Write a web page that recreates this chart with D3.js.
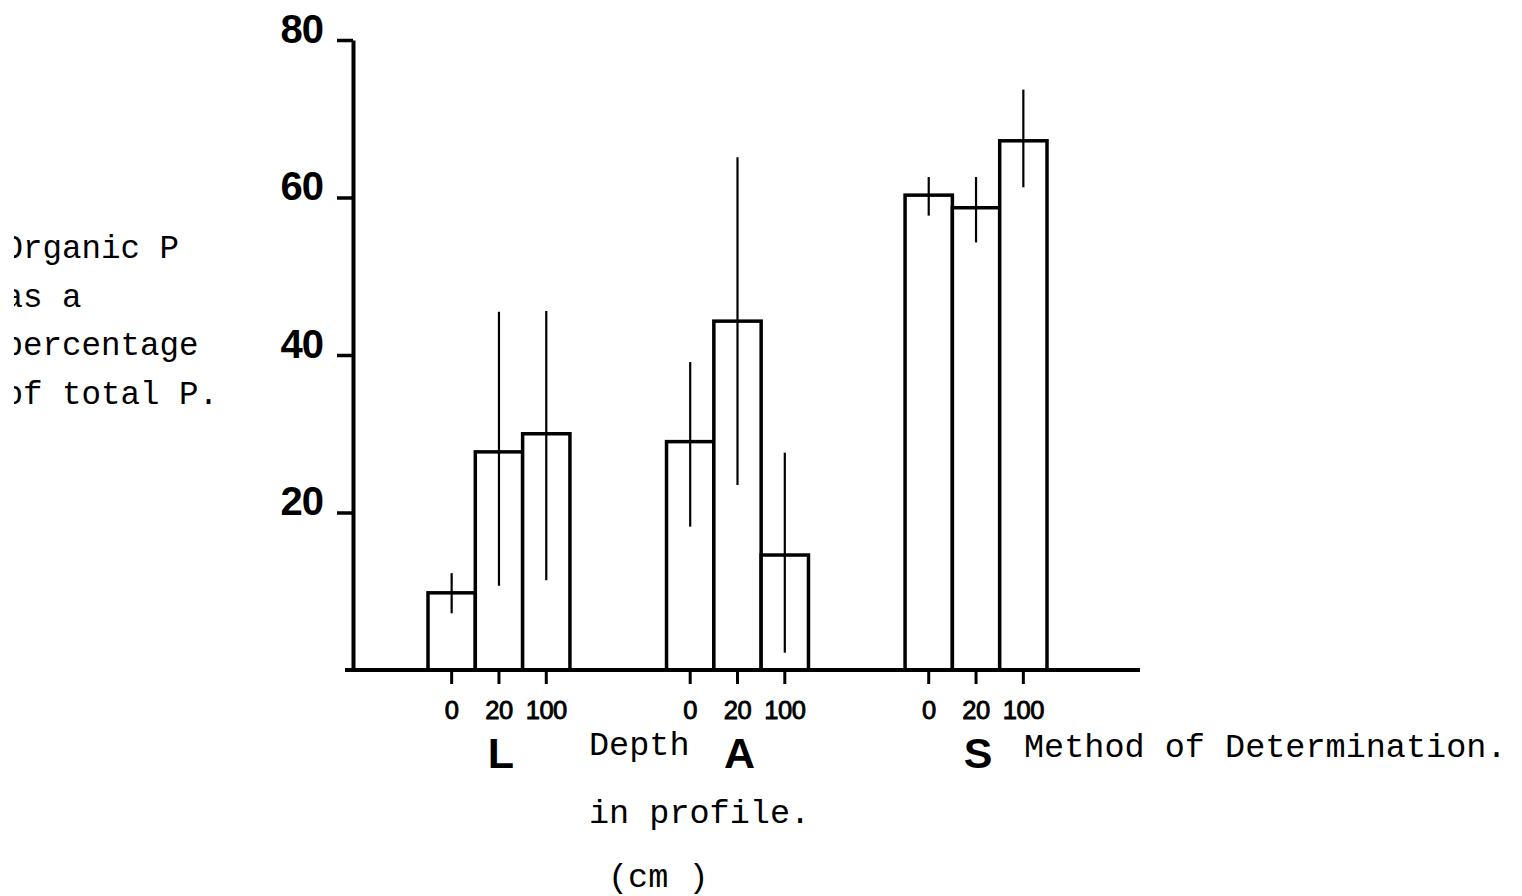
<!DOCTYPE html>
<html>
<head>
<meta charset="utf-8">
<script src="https://cdn.jsdelivr.net/npm/d3@7"></script>
<style>
  html, body { margin: 0; padding: 0; background: #fff; }
  svg { display: block; }
</style>
</head>
<body>
<svg id="chart" width="1522" height="896"></svg>
<script>
// Method of determination (groups) and sampling depth in profile (cm)
const methods = ["L", "A", "S"];
const depths = ["0", "20", "100"];

// Organic P as % of total P, per method, ordered by depth 0 / 20 / 100 cm
const pctL = [9.8, 27.7, 30.0];
const pctA = [29.0, 44.3, 14.6];
const pctS = [60.3, 58.7, 67.2];

// Upper and lower ends of the range bars
const hiL = [12.3, 45.5, 45.6];
const loL = [7.2, 10.7, 11.4];
const hiA = [39.1, 65.1, 27.6];
const loA = [18.2, 23.5, 2.2];
const hiS = [62.6, 62.6, 73.7];
const loS = [57.7, 54.3, 61.3];

const yTicks = [20, 40, 60, 80];
const yTitleLines = ["Organic P", "as a", "percentage", "of total P."];
const depthTitleLines = ["Depth", "in profile.", "(cm )"];
const methodTitle = "Method of Determination.";

const pct = [pctL, pctA, pctS];
const hi = [hiL, hiA, hiS];
const lo = [loL, loA, loS];
const rows = methods.map((m, i) => ({
  method: m,
  bars: depths.map((d, j) => ({ method: m, depth: d, value: pct[i][j], hi: hi[i][j], lo: lo[i][j] }))
}));

const svg = d3.select("#chart");
svg.append("rect").attr("width", 1522).attr("height", 896).attr("fill", "#fff");

const baseY = 670;
const y = d3.scaleLinear().domain([0, 80]).range([baseY, 40]);
const x0 = d3.scaleBand().domain(methods).range([428, 1047]).paddingInner(0.405).paddingOuter(0);
const x1 = d3.scaleBand().domain(depths).range([0, x0.bandwidth()]).padding(0);

const sansFont = "'Liberation Sans', Arial, Helvetica, sans-serif";
const monoFont = "'Liberation Mono', 'Courier New', monospace";

// Bars and range lines
const groups = svg.selectAll("g.method").data(rows).join("g")
  .attr("class", "method")
  .attr("transform", d => `translate(${x0(d.method)},0)`);

groups.selectAll("rect.bar").data(d => d.bars).join("rect")
  .attr("class", "bar")
  .attr("x", d => x1(d.depth))
  .attr("y", d => y(d.value))
  .attr("width", x1.bandwidth())
  .attr("height", d => baseY - y(d.value))
  .attr("fill", "#fff")
  .attr("stroke", "#000")
  .attr("stroke-width", 3.5);

groups.selectAll("line.range").data(d => d.bars).join("line")
  .attr("class", "range")
  .attr("x1", d => x1(d.depth) + x1.bandwidth() / 2)
  .attr("x2", d => x1(d.depth) + x1.bandwidth() / 2)
  .attr("y1", d => y(d.hi))
  .attr("y2", d => y(d.lo))
  .attr("stroke", "#000")
  .attr("stroke-width", 2.2);

// Depth axis under each group
groups.each(function () {
  const g = d3.select(this).append("g").attr("transform", `translate(0,${baseY})`);
  g.call(d3.axisBottom(x1).tickSize(14).tickPadding(17).tickSizeOuter(0));
  g.select(".domain").remove();
  g.selectAll(".tick line").attr("stroke", "#000").attr("stroke-width", 3);
  g.selectAll(".tick text")
    .attr("fill", "#000")
    .attr("stroke", "#000")
    .attr("stroke-width", 0.9)
    .attr("dy", "0.72em")
    .style("font-family", sansFont)
    .style("font-size", "25.5px")
    .style("letter-spacing", "-0.5px");
});

// Method letters
svg.selectAll("text.methodLabel").data(methods).join("text")
  .attr("class", "methodLabel")
  .attr("x", d => x0(d) + x0.bandwidth() / 2 + 2)
  .attr("y", 768)
  .attr("text-anchor", "middle")
  .style("font-family", sansFont)
  .style("font-size", "43px")
  .style("font-weight", "bold")
  .text(d => d);

// Baseline
svg.append("line")
  .attr("x1", 345).attr("x2", 1140)
  .attr("y1", baseY).attr("y2", baseY)
  .attr("stroke", "#000").attr("stroke-width", 4);

// Value axis
const yAxis = svg.append("g").attr("transform", "translate(353,0)")
  .call(d3.axisLeft(y).tickValues(yTicks).tickSize(16).tickPadding(14).tickSizeOuter(0));
yAxis.select(".domain").attr("stroke", "#000").attr("stroke-width", 4);
yAxis.selectAll(".tick line").attr("stroke", "#000").attr("stroke-width", 3.5);
yAxis.selectAll(".tick text")
  .attr("fill", "#000")
  .attr("dy", "0.05em")
  .style("font-family", sansFont)
  .style("font-size", "40px")
  .style("font-weight", "bold")
  .style("letter-spacing", "-1px");

// Typed titles
svg.append("clipPath").attr("id", "leftEdge")
  .append("rect").attr("x", 14).attr("y", 0).attr("width", 400).attr("height", 896);

svg.append("g").attr("clip-path", "url(#leftEdge)")
  .selectAll("text").data(yTitleLines).join("text")
  .attr("x", 3.6)
  .attr("y", (d, i) => 258 + i * 48.7)
  .style("font-family", monoFont)
  .style("font-size", "32.5px")
  .text(d => d);

const depthTitleX = [589, 589, 608];
const depthTitleY = [755, 823, 887];
svg.selectAll("text.depthTitle").data(depthTitleLines).join("text")
  .attr("class", "depthTitle")
  .attr("x", (d, i) => depthTitleX[i])
  .attr("y", (d, i) => depthTitleY[i])
  .style("font-family", monoFont)
  .style("font-size", "33.5px")
  .text(d => d);

svg.append("text")
  .attr("x", 1024)
  .attr("y", 757)
  .style("font-family", monoFont)
  .style("font-size", "33.5px")
  .text(methodTitle);
</script>
</body>
</html>
